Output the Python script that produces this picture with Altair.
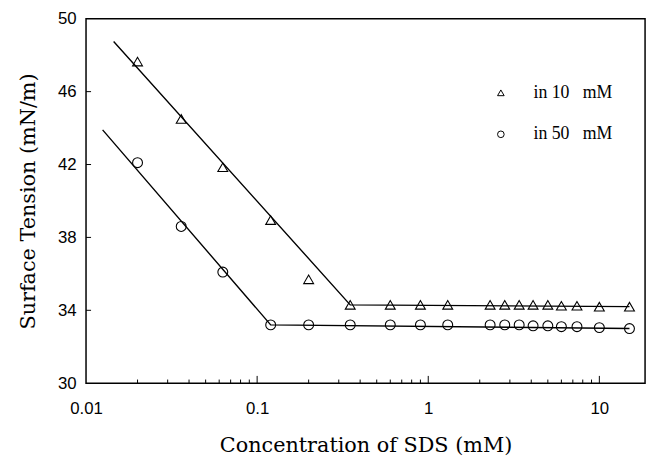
import altair as alt
import pandas as pd

# ---- data ----
conc = [0.02, 0.036, 0.063, 0.12, 0.2, 0.35, 0.6, 0.9, 1.3, 2.3, 2.8, 3.4,
        4.1, 5.0, 6.0, 7.4, 10, 15]
st_10mM = [47.65, 44.5, 41.85, 38.95, 35.7, 34.3, 34.3, 34.3, 34.3, 34.3, 34.3,
           34.3, 34.3, 34.3, 34.25, 34.25, 34.2, 34.2]
st_50mM = [42.1, 38.6, 36.1, 33.2, 33.2, 33.2, 33.2, 33.2, 33.2, 33.2, 33.2,
           33.2, 33.15, 33.15, 33.1, 33.1, 33.05, 33.0]

fit_10mM_x = [0.0145, 0.35, 15]
fit_10mM_y = [48.75, 34.3, 34.2]
fit_50mM_x = [0.0125, 0.12, 15]
fit_50mM_y = [43.9, 33.2, 33.0]

series = ["in 10 mM", "in 50 mM"]
x_ticks = [0.01, 0.1, 1, 10]
y_ticks = [30, 34, 38, 42, 46, 50]
minor_x = [k * 10.0 ** e for e in (-2, -1, 0) for k in range(2, 10)]
major_x = [0.1, 1, 10]
inner_y = [34, 38, 42, 46]

# ---- tables ----
pts = pd.DataFrame({
    "x": conc + conc,
    "y": st_10mM + st_50mM,
    "series": [series[0]] * len(conc) + [series[1]] * len(conc),
})
fit = pd.DataFrame({
    "x": fit_10mM_x + fit_50mM_x,
    "y": fit_10mM_y + fit_50mM_y,
    "series": [series[0]] * 3 + [series[1]] * 3,
})
tx = pd.DataFrame({
    "x": minor_x + major_x,
    "y": [30.0] * (len(minor_x) + len(major_x)),
    "y2": [30.2] * len(minor_x) + [30.4] * len(major_x),
})
ty = pd.DataFrame({"y": inner_y, "x": [0.01] * len(inner_y), "x2": [0.0107] * len(inner_y)})

xs = alt.Scale(type="log", domain=[0.01, 18.5], nice=False)
ys = alt.Scale(domain=[30, 50], nice=False, zero=False)
x_enc = alt.X("x:Q", scale=xs, title="Concentration of SDS (mM)",
              axis=alt.Axis(values=x_ticks, format="~g", labelFlush=False,
                            labelPadding=18, titlePadding=18))
y_enc = alt.Y("y:Q", scale=ys, title="Surface Tension (mN/m)",
              axis=alt.Axis(values=y_ticks, labelPadding=10, titlePadding=19))

points = alt.Chart(pts).mark_point(filled=False, color="black", size=100,
                                   strokeWidth=1.1, opacity=1).encode(
    x=x_enc, y=y_enc,
    shape=alt.Shape("series:N",
                    scale=alt.Scale(domain=series, range=["triangle-up", "circle"]),
                    legend=alt.Legend(title=None, orient="none", legendX=411, legendY=66,
                                      labelFont="Liberation Serif", labelFontSize=18,
                                      labelColor="black", symbolSize=45,
                                      symbolStrokeColor="black", symbolFillColor="white",
                                      symbolStrokeWidth=1, labelOffset=24, rowPadding=24,
                                      padding=0,
                                      labelExpr="replace(datum.label, ' mM', '\u00a0\u00a0 mM')")),
)

lines = alt.Chart(fit).mark_line(color="black", strokeWidth=1.4).encode(
    x=x_enc, y=y_enc, detail="series:N")

xticks = alt.Chart(tx).mark_rule(color="black", strokeWidth=1).encode(
    x=x_enc, y=y_enc, y2="y2:Q")
yticks = alt.Chart(ty).mark_rule(color="black", strokeWidth=1).encode(
    x=x_enc, x2="x2:Q", y=y_enc)

chart = alt.layer(lines, points, xticks, yticks).properties(
    width=566, height=369,
    background="white",
    autosize=alt.AutoSizeParams(type="none"),
    padding={"left": 79, "top": 8, "right": 5, "bottom": 84},
).configure_view(stroke="black", strokeWidth=1.5).configure_axis(
    domain=False, ticks=False, grid=False,
    labelFont="Liberation Sans", labelFontSize=17, labelColor="black",
    titleFont="DejaVu Serif", titleFontSize=21, titleFontWeight="normal",
    titleColor="black",
)

chart.save("out.html", embed_options={"renderer": "svg", "actions": False})
